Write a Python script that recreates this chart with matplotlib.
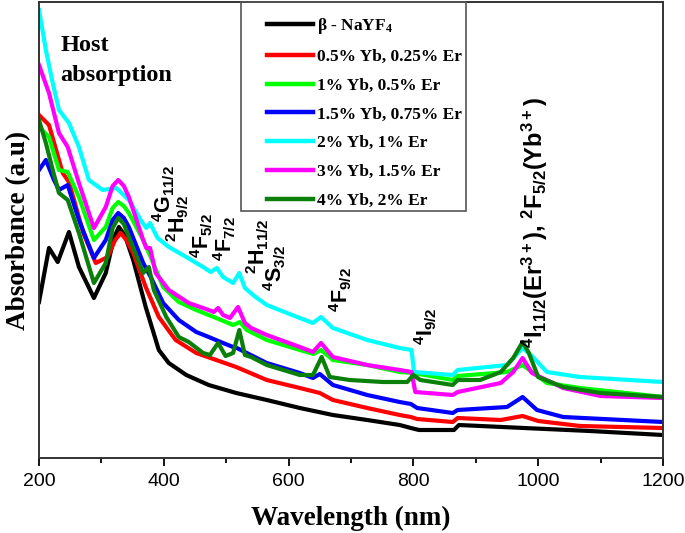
import matplotlib

matplotlib.use("Agg")

import matplotlib.pyplot as plt
from matplotlib.patches import Rectangle

plt.rcParams["mathtext.default"] = "regular"

# wavelength (nm) / absorbance (a.u.)
wl_host = [200, 216, 230, 248, 264, 288, 307, 320, 328, 338, 351, 371, 392, 408, 436, 472, 516,
           565, 618, 671, 726, 778, 796, 809, 865, 873, 977, 1083, 1200]
ab_host = [1.56, 2.10, 1.96, 2.26, 1.91, 1.60, 1.85, 2.20, 2.31, 2.22, 1.98, 1.51, 1.08, 0.95,
           0.83, 0.73, 0.65, 0.58, 0.50, 0.43, 0.38, 0.33, 0.30, 0.28, 0.28, 0.33, 0.30, 0.27,
           0.23]

wl_05 = [200, 216, 238, 248, 271, 291, 310, 322, 331, 340, 351, 371, 392, 419, 452, 484, 516,
         565, 618, 650, 671, 726, 778, 796, 806, 863, 871, 940, 975, 1000, 1067, 1200]
ab_05 = [3.43, 3.33, 2.85, 2.76, 2.25, 1.95, 2.01, 2.18, 2.25, 2.18, 2.05, 1.71, 1.41, 1.18,
         1.05, 0.98, 0.91, 0.78, 0.70, 0.65, 0.58, 0.50, 0.43, 0.41, 0.39, 0.36, 0.40, 0.38,
         0.42, 0.37, 0.32, 0.30]

wl_1 = [200, 216, 232, 246, 264, 288, 307, 318, 327, 336, 344, 367, 379, 399, 424, 452, 484,
        511, 522, 533, 565, 618, 640, 652, 671, 726, 778, 800, 863, 871, 950, 975, 1014, 1067,
        1200]
ab_1 = [3.31, 3.21, 2.88, 2.86, 2.61, 2.18, 2.31, 2.50, 2.56, 2.52, 2.45, 2.18, 2.01, 1.71,
        1.56, 1.48, 1.40, 1.33, 1.36, 1.28, 1.18, 1.08, 1.04, 1.08, 0.98, 0.93, 0.86, 0.85,
        0.78, 0.82, 0.86, 0.93, 0.75, 0.70, 0.61]

wl_15 = [200, 211, 224, 232, 246, 264, 288, 307, 318, 327, 336, 344, 367, 379, 399, 424, 452,
         472, 495, 511, 517, 565, 618, 639, 650, 671, 726, 778, 796, 806, 863, 871, 950, 975,
         998, 1040, 1200]
ab_15 = [2.88, 2.98, 2.78, 2.68, 2.73, 2.38, 2.00, 2.18, 2.38, 2.45, 2.40, 2.31, 1.95, 1.81,
         1.55, 1.38, 1.26, 1.21, 1.15, 1.11, 1.10, 0.95, 0.85, 0.80, 0.84, 0.73, 0.63, 0.56,
         0.54, 0.50, 0.45, 0.48, 0.51, 0.61, 0.48, 0.41, 0.36]

wl_2 = [200, 211, 222, 232, 248, 264, 280, 302, 324, 344, 365, 372, 378, 390, 408, 436, 463,
        475, 485, 495, 511, 521, 530, 545, 565, 618, 639, 652, 671, 726, 778, 797, 801, 863,
        871, 950, 975, 990, 1014, 1067, 1200]
ab_2 = [4.48, 4.08, 3.75, 3.48, 3.35, 3.11, 2.78, 2.68, 2.70, 2.58, 2.36, 2.30, 2.35, 2.20,
        2.11, 2.01, 1.91, 1.86, 1.90, 1.81, 1.75, 1.85, 1.70, 1.62, 1.53, 1.40, 1.35, 1.41,
        1.30, 1.18, 1.10, 1.08, 0.86, 0.83, 0.88, 0.93, 1.10, 1.02, 0.86, 0.81, 0.76]

wl_3 = [200, 216, 232, 246, 264, 288, 307, 318, 327, 336, 344, 367, 372, 378, 387, 408, 440,
        472, 480, 487, 495, 506, 519, 530, 540, 565, 618, 639, 652, 671, 726, 778, 797, 803,
        863, 871, 940, 960, 975, 990, 1040, 1100, 1200]
ab_3 = [3.93, 3.65, 3.25, 3.11, 2.75, 2.30, 2.51, 2.72, 2.78, 2.72, 2.61, 2.18, 2.10, 2.10,
        1.85, 1.68, 1.55, 1.48, 1.46, 1.50, 1.43, 1.40, 1.51, 1.35, 1.30, 1.23, 1.11, 1.06,
        1.15, 1.01, 0.93, 0.88, 0.86, 0.66, 0.63, 0.66, 0.75, 0.86, 1.00, 0.85, 0.70, 0.62,
        0.60]

wl_4 = [200, 211, 222, 232, 246, 264, 288, 307, 318, 327, 336, 344, 367, 376, 384, 404, 424,
        440, 463, 474, 487, 499, 511, 521, 530, 540, 565, 618, 639, 653, 666, 698, 751, 790,
        800, 811, 863, 871, 907, 940, 960, 975, 985, 1000, 1040, 1100, 1200]
ab_4 = [3.38, 3.15, 2.88, 2.65, 2.58, 2.25, 1.75, 1.95, 2.30, 2.40, 2.34, 2.21, 1.85, 1.91,
        1.68, 1.41, 1.21, 1.16, 1.05, 1.03, 1.15, 1.02, 1.05, 1.28, 1.03, 1.01, 0.93, 0.83,
        0.83, 1.01, 0.81, 0.78, 0.76, 0.76, 0.83, 0.78, 0.73, 0.78, 0.78, 0.86, 1.00, 1.16,
        1.05, 0.81, 0.71, 0.65, 0.61]

series = [
    (wl_host, ab_host, "black", r"β - NaYF$_4$"),
    (wl_05, ab_05, "#ff0000", "0.5% Yb, 0.25% Er"),
    (wl_1, ab_1, "#00ff00", "1% Yb, 0.5% Er"),
    (wl_15, ab_15, "#0000ff", "1.5% Yb, 0.75% Er"),
    (wl_2, ab_2, "#00ffff", "2% Yb, 1% Er"),
    (wl_3, ab_3, "#ff00ff", "3% Yb, 1.5% Er"),
    (wl_4, ab_4, "#0a800a", "4% Yb, 2% Er"),
]

# transition labels: (text, wavelength, absorbance, font size)
transitions = [
    (r"$^4$G$_{11/2}$", 400, 2.64, 15.5),
    (r"$^2$H$_{9/2}$", 422, 2.40, 15.5),
    (r"$^4$F$_{5/2}$", 461, 2.22, 15.5),
    (r"$^4$F$_{7/2}$", 497, 2.19, 15.5),
    (r"$^2$H$_{11/2}$", 550, 2.12, 15.5),
    (r"$^4$S$_{3/2}$", 578, 1.90, 15.5),
    (r"$^4$F$_{9/2}$", 683, 1.68, 15.5),
    (r"$^4$I$_{9/2}$", 819, 1.32, 15.5),
    (r"$^4$I$_{11/2}$(Er$^{3+}$), $^2$F$_{5/2}$(Yb$^{3+}$)", 994, 2.36, 17),
]

fig = plt.figure(figsize=(6.85, 5.33), dpi=100)
ax = fig.add_axes([39 / 685, 1 - 458 / 533, 624 / 685, 456 / 533])

for wl, ab, color, label in series:
    ax.plot(wl, ab, color=color, linewidth=3, label=label, solid_joinstyle="round")

ax.set_xlim(200, 1200)
ax.set_ylim(0, 4.56)
ax.set_xticks(range(200, 1201, 200))
ax.set_xticks(range(300, 1200, 200), minor=True)
ax.set_yticks([])
ax.tick_params(axis="x", which="major", direction="out", length=6, width=1.3, pad=5,
               labelsize=14)
ax.tick_params(axis="x", which="minor", direction="out", length=3.5, width=1.3)
for label in ax.get_xticklabels():
    label.set_fontfamily("Liberation Sans")
for spine in ax.spines.values():
    spine.set_color("#333333")
    spine.set_linewidth(1.4)

serif_bold = {"family": "Liberation Serif", "weight": "bold"}
ax.set_xlabel("Wavelength (nm)", fontdict=serif_bold, fontsize=19.5, labelpad=11)
ax.set_ylabel("Absorbance (a.u)", fontdict=serif_bold, fontsize=19.5, labelpad=6)

ax.text(0.034, 0.928, "Host\nabsorption", transform=ax.transAxes, ha="left", va="top",
        fontsize=17.5, linespacing=1.6, **serif_bold)

for text, x, y, size in transitions:
    ax.text(x, y, text, rotation=90, ha="center", va="center", fontsize=size,
            family="Liberation Sans", weight="bold")

leg = ax.legend(loc="upper left", bbox_to_anchor=((267 - 39) / 624, (458 - 16) / 456),
                frameon=False, prop={"family": "Liberation Serif", "weight": "bold",
                                     "size": 12.5},
                handlelength=2.65, handletextpad=0.25, labelspacing=0.73, borderpad=0,
                borderaxespad=0)
for line in leg.get_lines():
    line.set_linewidth(3.2)

fig.patches.append(Rectangle((241 / 685, 1 - 211 / 533), 225 / 685, 209 / 533,
                             transform=fig.transFigure, fill=False, edgecolor="#555555",
                             linewidth=1.2))

fig.savefig("out.png", dpi=100)
